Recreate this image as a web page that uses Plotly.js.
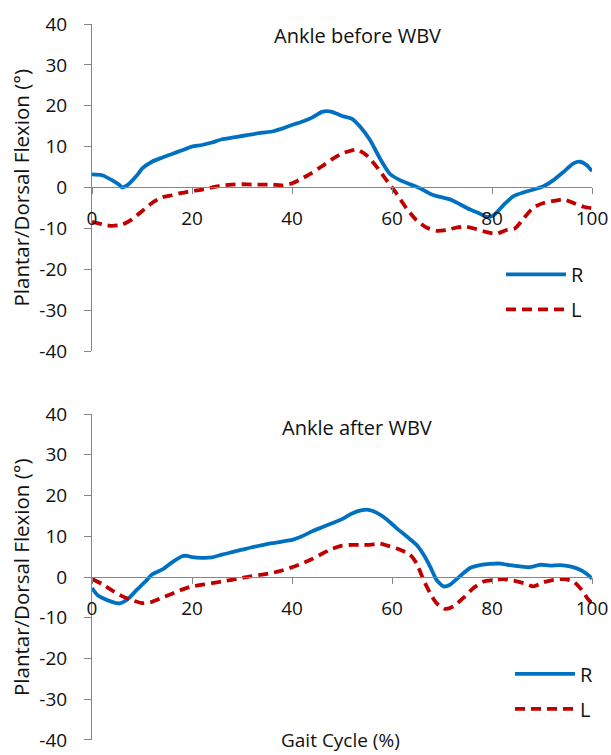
<!DOCTYPE html>
<html><head><meta charset="utf-8">
<script src="https://cdn.plot.ly/plotly-3.0.1.min.js"></script>
<style>html,body{margin:0;padding:0;background:#fff}#chart{width:611px;height:755px}</style>
</head><body><div id="chart"></div>
<script>
// Ankle before WBV
const beforeRX = [0,2,4,5.5,6,7,9,10,12,14,16,18,20,22,24,26,28,30,32,34,36,38,40,42,44,46,47,48,50,52,53.6,55.6,57.6,59.6,61.6,63.6,65.6,67.6,69.6,71.6,73.6,75.6,77.6,78.9,80.3,82.3,84.3,86.3,88.3,90.3,92.3,94.3,96.3,97.6,98.9,100];
const beforeRY = [3.2,3.0,1.8,0.6,0,0.5,3,4.6,6.3,7.3,8.2,9.1,10,10.4,11,11.8,12.2,12.6,13,13.4,13.7,14.4,15.3,16.1,17.1,18.5,18.7,18.5,17.5,16.8,14.9,11.6,7.1,3.3,1.8,0.8,-0.2,-1.5,-2.3,-2.9,-4.1,-5.4,-6.4,-7.2,-6.8,-4.3,-2.1,-1.2,-0.5,0.3,1.8,3.8,5.9,6.3,5.5,4.0];
const beforeLX = [0,2,4,6,8,10,12,14,16,18,20,22,24,26,28,30,32,34,36,38,40,42,44,46,48,50,52,53,54.9,56.9,58.9,60.9,62.9,64.9,66.9,68.9,70.9,72.9,74.9,76.9,78.9,80.9,82.9,84.6,86.3,88.3,90.3,92.3,94.3,96.3,98.3,100];
const beforeLY = [-8.4,-9.0,-9.4,-9.1,-7.8,-5.8,-3.8,-2.4,-1.9,-1.3,-0.9,-0.5,0,0.5,0.7,0.8,0.7,0.7,0.7,0.5,1.0,2.2,3.6,5.2,6.9,8.3,9.1,9.3,7.9,5.1,1.8,-1.5,-5.1,-8.0,-9.8,-10.6,-10.4,-9.8,-9.6,-10.2,-10.9,-11.3,-10.4,-10.0,-7.6,-4.9,-3.8,-3.3,-2.9,-3.8,-4.7,-5.1];
// Ankle after WBV
const afterRX = [0,1,2,4,5.5,7,9,11,12,14,16,18,19,20,22,24,26,28,30,32,34,36,38,40,42,44,46,48,50,52,54,55.3,56.9,58.9,60.9,62.9,64.9,66.3,67.6,68.9,70.3,71.6,73.6,75.6,77.6,79.6,81.6,83.6,85.6,87.6,89.6,91.6,93.6,95.6,97.6,98.9,100];
const afterRY = [-2.7,-4.3,-5.1,-6.1,-6.5,-5.6,-3.1,-0.7,0.6,1.8,3.6,5.1,5.2,4.9,4.7,4.8,5.5,6.1,6.7,7.3,7.8,8.3,8.7,9.1,10,11.2,12.2,13.2,14.2,15.6,16.4,16.5,15.8,14.2,12.0,10,7.9,5.5,2.6,-0.7,-2.3,-1.9,0.2,2.2,2.9,3.2,3.3,2.9,2.6,2.4,3.0,2.8,2.9,2.6,1.8,0.8,-0.4];
const afterLX = [0,2,4,6,8,10,12,14,16,18,20,22,24,26,28,30,32,34,36,38,40,42,44,46,48,50,52,54,55.6,57.6,59.6,61.6,63.6,64.9,66.3,67.6,68.9,70.6,72.3,74.3,76.3,78.3,80.3,82.3,84.3,86.3,88.3,90.3,92.3,94.3,96.3,97.9,99.3,100];
const afterLY = [-0.5,-1.7,-3.3,-4.7,-5.7,-6.4,-6.1,-5.1,-4.1,-3.1,-2.3,-1.9,-1.5,-1.1,-0.7,-0.2,0.2,0.6,1.0,1.6,2.4,3.3,4.4,5.7,6.9,7.7,7.9,7.9,7.9,8.2,7.5,6.7,5.5,3.4,-0.7,-3.9,-6.4,-7.8,-7.2,-5.1,-2.7,-1.1,-0.7,-0.5,-0.9,-1.5,-2.3,-1.3,-0.7,-0.5,-1.1,-3.1,-5.6,-6.4];

const seriesNames = ['R','L'];
const panelTitles = ['Ankle before WBV','Ankle after WBV'];
const xTicks = [0,20,40,60,80,100];
const yTicks = [-40,-30,-20,-10,0,10,20,30,40];

const FONT = 'Open Sans, sans-serif';
const TXT = '#111';
const BLUE = '#0070C0', RED = '#C00000', AX = '#868686';
const lineR = {color: BLUE, width: 3.8, shape: 'spline', smoothing: 0.6};
const lineL = {color: RED, width: 3.8, dash: '10px,6px', shape: 'spline', smoothing: 0.6};

const traces = [
  {x: beforeRX, y: beforeRY, name: seriesNames[0], mode: 'lines', line: lineR, xaxis: 'x', yaxis: 'y', legend: 'legend', legendgroup: 'a'},
  {x: beforeLX, y: beforeLY, name: seriesNames[1], mode: 'lines', line: lineL, xaxis: 'x', yaxis: 'y', legend: 'legend', legendgroup: 'b'},
  {x: afterRX, y: afterRY, name: seriesNames[0], mode: 'lines', line: lineR, xaxis: 'x2', yaxis: 'y2', legend: 'legend2', legendgroup: 'c'},
  {x: afterLX, y: afterLY, name: seriesNames[1], mode: 'lines', line: lineL, xaxis: 'x2', yaxis: 'y2', legend: 'legend2', legendgroup: 'd'}
];

const topDom = [0.5433, 1], botDom = [0, 0.4553];
function xax(pos) {
  return {range: [0, 100], tickvals: xTicks, ticktext: xTicks.map(String), anchor: 'free',
    position: pos, domain: [0, 1], showline: true, linecolor: AX, linewidth: 1, ticks: 'outside', ticklen: 6,
    tickcolor: AX, showgrid: false, zeroline: false, ticklabelstandoff: 8,
    tickfont: {family: FONT, size: 19, color: TXT}, fixedrange: true};
}
function yax(dom) {
  return {range: [-40, 40], tickvals: yTicks, ticktext: yTicks.map(String), domain: dom, showline: true,
    linecolor: AX, linewidth: 1, ticks: 'outside', ticklen: 7, tickcolor: AX, showgrid: false, zeroline: false,
    ticklabelstandoff: 13, tickfont: {family: FONT, size: 19, color: TXT}, fixedrange: true};
}
const xa1 = xax((topDom[0] + topDom[1]) / 2);
const xa2 = xax((botDom[0] + botDom[1]) / 2);
const ya1 = yax(topDom); ya1.anchor = 'x';
const ya2 = yax(botDom); ya2.anchor = 'x2';

const legendBase = {font: {family: FONT, size: 20, color: TXT}, bgcolor: 'rgba(0,0,0,0)', borderwidth: 0,
  xanchor: 'left', yanchor: 'middle', tracegroupgap: 6, itemwidth: 60, itemclick: false, itemdoubleclick: false};

const layout = {
  width: 611, height: 755,
  margin: {l: 92, r: 19, t: 24, b: 15, autoexpand: false},
  paper_bgcolor: '#fff', plot_bgcolor: '#fff',
  showlegend: true,
  xaxis: xa1, yaxis: ya1, xaxis2: xa2, yaxis2: ya2,
  legend: Object.assign({}, legendBase, {x: 0.818, y: 0.626}),
  legend2: Object.assign({}, legendBase, {x: 0.836, y: 0.068}),
  annotations: [
    {text: panelTitles[0], xref: 'paper', yref: 'paper', x: 0.53, y: 0.9846, showarrow: false,
      font: {family: FONT, size: 20, color: TXT}, xanchor: 'center', yanchor: 'middle'},
    {text: panelTitles[1], xref: 'paper', yref: 'paper', x: 0.53, y: 0.437, showarrow: false,
      font: {family: FONT, size: 20, color: TXT}, xanchor: 'center', yanchor: 'middle'},
    {text: 'Plantar/Dorsal Flexion (°)', xref: 'paper', yref: 'paper', x: -0.142, y: 0.7717, textangle: -90,
      showarrow: false, font: {family: FONT, size: 20.5, color: TXT}, xanchor: 'center', yanchor: 'middle'},
    {text: 'Plantar/Dorsal Flexion (°)', xref: 'paper', yref: 'paper', x: -0.142, y: 0.2277, textangle: -90,
      showarrow: false, font: {family: FONT, size: 20.5, color: TXT}, xanchor: 'center', yanchor: 'middle'},
    {text: 'Gait Cycle (%)', xref: 'paper', yref: 'paper', x: 0.496, y: -0.0205, showarrow: false,
      font: {family: FONT, size: 19, color: TXT}, xanchor: 'center', yanchor: 'bottom'}
  ]
};
Plotly.newPlot('chart', traces, layout, {staticPlot: true, displayModeBar: false});
</script></body></html>
